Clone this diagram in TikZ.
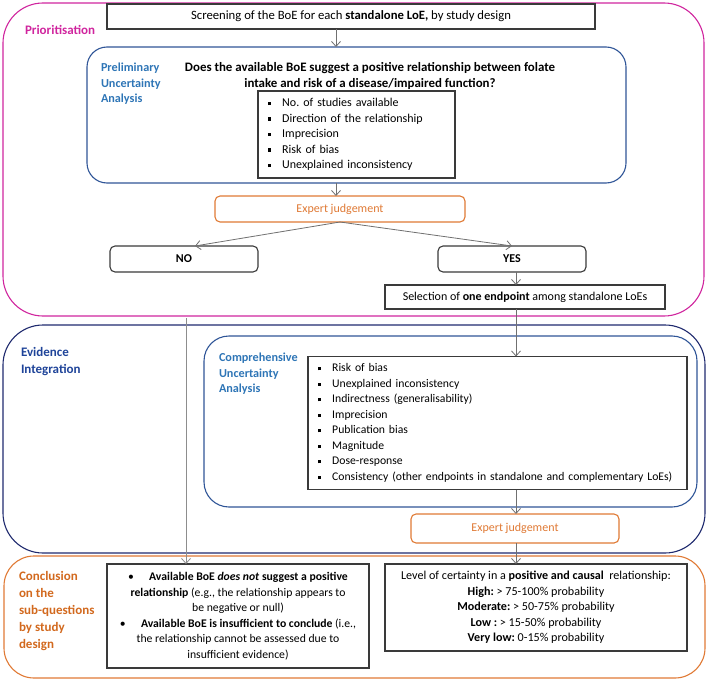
\documentclass[tikz,border=0pt]{standalone}
\usepackage{fontspec}
\setmainfont{Carlito}
\usetikzlibrary{arrows.meta}
\setlength{\parindent}{0pt}
\frenchspacing
\definecolor{pink}{HTML}{D0259E}
\definecolor{pblue}{HTML}{2F5597}
\definecolor{lblue}{HTML}{2E75B6}
\definecolor{navy}{HTML}{1F2A6E}
\definecolor{navylab}{HTML}{1F4499}
\definecolor{orng}{HTML}{E07A35}
\definecolor{orlab}{HTML}{D2691E}
\definecolor{boxline}{HTML}{3A3A3A}
\definecolor{arrline}{HTML}{707070}
\newcommand{\sqb}{\rule[1.5pt]{3.2pt}{3.2pt}\hspace{11pt}}
\begin{document}
\frenchspacing
\begin{tikzpicture}[x=1pt,y=-1pt,
  every node/.style={inner sep=0pt, outer sep=0pt},
  region/.style={draw, line width=1.1pt},
  blackbox/.style={draw=boxline, line width=1.1pt, fill=white, font=\fontsize{12}{15.5}\selectfont},
  roundbox/.style={draw=boxline, line width=1.1pt, rounded corners=5pt, fill=white, font=\fontsize{12}{15.5}\selectfont\bfseries},
  expert/.style={draw=orng, line width=1.1pt, rounded corners=5pt, fill=white, text=orng, font=\fontsize{12}{15.5}\selectfont},
  seclab/.style={anchor=north west, align=left, font=\fontsize{13}{17}\selectfont\bfseries},
  sublab/.style={anchor=north west, align=left, text=lblue, font=\fontsize{12.2}{15.5}\selectfont\bfseries},
  arr/.style={draw=arrline, line width=0.8pt, -{Straight Barb[length=5pt,width=9pt]}}
]
\useasboundingbox (0,0) rectangle (709,682);

% ---------------- Prioritisation ----------------
\node[region, draw=pink, rounded corners=40pt, minimum width=701pt, minimum height=313pt] (pri) at (353.5,159.5) {};
\node[seclab, text=pink] (prilab) at (25,25) {Prioritisation};

\node[blackbox, minimum width=488pt, minimum height=25pt, font=\fontsize{12.7}{15.5}\selectfont] (screen) at (351,16.5)
  {Screening of the BoE for each \textbf{standalone LoE,} by study design};

\node[region, draw=pblue, rounded corners=20pt, minimum width=539pt, minimum height=136pt] (prelim) at (356.5,115) {};
\node[sublab] (prelimlab) at (101,63) {Preliminary\\Uncertainty\\Analysis};
\node[align=center, font=\fontsize{12.9}{16}\selectfont\bfseries] (question) at (370,76)
  {Does the available BoE suggest a positive relationship between folate\\intake and risk of a disease/impaired function?};
\node[blackbox, minimum height=87pt, text width=177pt, inner xsep=10pt, align=left] (list1) at (356.5,134.5)
  {\sqb No. of studies available\\
   \sqb Direction of the relationship\\
   \sqb Imprecision\\
   \sqb Risk of bias\\
   \sqb Unexplained inconsistency};

\node[expert, minimum width=250pt, minimum height=26pt] (ej1) at (340,209) {Expert judgement};
\node[roundbox, minimum width=148pt, minimum height=26pt] (no) at (184,259) {NO};
\node[roundbox, minimum width=148pt, minimum height=26pt] (yes) at (512,259) {YES};
\node[blackbox, minimum width=280pt, minimum height=24pt] (sel) at (525,297)
  {Selection of \textbf{one endpoint} among standalone LoEs};

% ---------------- Evidence Integration ----------------
\node[region, draw=navy, rounded corners=40pt, minimum width=702pt, minimum height=228pt] (evid) at (354,439) {};
\node[seclab, text=navylab] (evlab) at (21,347) {Evidence\\Integration};

\node[region, draw=pblue, rounded corners=25pt, minimum width=493pt, minimum height=171pt] (comp) at (450.5,421.5) {};
\node[sublab] (complab) at (219,353) {Comprehensive\\Uncertainty\\Analysis};
\node[blackbox, minimum height=133pt, text width=359pt, inner xsep=10pt, align=left, font=\fontsize{11.7}{15.5}\selectfont] (list2) at (497.5,423)
  {\sqb Risk of bias\\
   \sqb Unexplained inconsistency\\
   \sqb Indirectness (generalisability)\\
   \sqb Imprecision\\
   \sqb Publication bias\\
   \sqb Magnitude\\
   \sqb Dose-response\\
   \sqb Consistency (other endpoints in standalone and complementary LoEs)};

\node[expert, minimum width=208pt, minimum height=29pt] (ej2) at (515,528.5) {Expert judgement};

% ---------------- Conclusion ----------------
\node[region, draw=orng, rounded corners=30pt, minimum width=701pt, minimum height=122pt] (conc) at (354.5,617) {};
\node[seclab, text=orlab] (conclab) at (19,571) {Conclusion\\on the\\sub-questions\\by study\\design};

\node[blackbox, minimum width=262pt, minimum height=104pt, align=center, font=\fontsize{11.7}{15.5}\selectfont] (cl) at (238,616)
  {\textbullet\hspace{1.3em}\textbf{Available BoE \textit{does not} suggest a positive}\\
   \textbf{relationship} (e.g., the relationship appears to\\
   be negative or null)\\
   \textbullet\hspace{1.3em}\textbf{Available BoE is insufficient to conclude} (i.e.,\\
   the relationship cannot be assessed due to\\
   insufficient evidence)};

\node[blackbox, minimum width=302pt, minimum height=87pt, align=center, font=\fontsize{12.1}{15.5}\selectfont] (cr) at (536,607.5)
  {Level of certainty in a \textbf{positive and causal}\ \ relationship:\\
   \textbf{High:} > 75-100\% probability\\
   \textbf{Moderate:} > 50-75\% probability\\
   \textbf{Low :} > 15-50\% probability\\
   \textbf{Very low:} 0-15\% probability};

% ---------------- Connectors ----------------
\coordinate (xa) at (336,0);
\coordinate (xb) at (516,0);
\coordinate (nostart) at (186,318);

\draw[arr] (screen.south -| xa) -- (prelim.north -| xa);
\draw[arr] (prelim.south -| xa) -- (ej1.north -| xa);
\draw[arr] (ej1.south) -- ([xshift=11pt]no.north);
\draw[arr] (ej1.south) -- (yes.north);
\draw[arr] (yes.south -| xb) -- (sel.north -| xb);
\draw[arr] (sel.south -| xb) -- (list2.north -| xb);
\draw[arr] (list2.south -| xb) -- (ej2.north -| xb);
\draw[arr] (ej2.south -| xb) -- (cr.north -| xb);
\draw[arr, draw=arrline!80] (nostart) -- (cl.north -| nostart);
\end{tikzpicture}
\end{document}
